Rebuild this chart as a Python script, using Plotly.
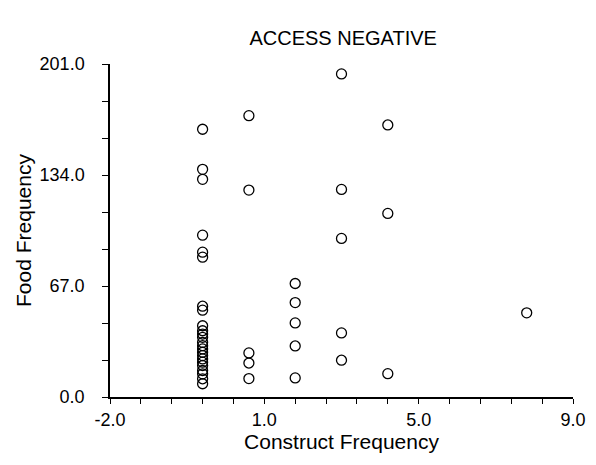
import plotly.graph_objects as go

# Data
construct_freq = [0, 0, 0, 0, 0, 0, 0, 0,
                  0, 0, 0, 0, 0, 0, 0, 0, 0, 0, 0, 0, 0, 0, 0, 0,
                  1, 1, 1, 1, 1,
                  2, 2, 2, 2, 2,
                  3, 3, 3, 3, 3,
                  4, 4, 4,
                  7]
food_freq = [161.6, 137.4, 131.4, 97.7, 87.4, 84.4, 54.8, 52.4,
             43, 40, 38, 36, 33, 31, 29, 27, 25, 23, 21, 19, 16, 14, 11, 8,
             169.8, 124.9, 26.6, 20.5, 11.1,
             68.5, 57.0, 44.7, 30.8, 11.5,
             195.0, 125.3, 95.7, 38.7, 22.2,
             164.2, 110.8, 14.1,
             50.8]

x_tick_vals = [-2, 4 / 3, 14 / 3, 8]
x_tick_text = ["-2.0", "1.0", "5.0", "9.0"]
y_tick_vals = [0, 67, 134, 201]
y_tick_text = ["0.0", "67.0", "134.0", "201.0"]

FONT = "Liberation Sans, Arial, sans-serif"

fig = go.Figure()
fig.add_trace(go.Scatter(
    x=construct_freq, y=food_freq, mode="markers",
    marker=dict(symbol="circle-open", size=10, color="black",
                line=dict(width=1.3, color="black")),
    showlegend=False, cliponaxis=False,
))

# page body has an 8px margin, so the figure is 8px smaller on each side
fig.update_layout(
    width=588, height=457,
    paper_bgcolor="white", plot_bgcolor="white",
    margin=dict(l=102, r=23, t=56, b=68, autoexpand=False),
    font=dict(family=FONT, size=18, color="black"),
    title=dict(text="ACCESS NEGATIVE", x=0.57, xanchor="center",
               y=0.935, yanchor="middle", font=dict(size=20)),
    xaxis=dict(
        range=[-2, 8], showgrid=False, zeroline=False,
        showline=True, linecolor="black", linewidth=1.5,
        tickmode="array", tickvals=x_tick_vals, ticktext=x_tick_text,
        ticks="outside", ticklen=5, tickcolor="black", tickwidth=1,
        ticklabelstandoff=1, automargin=False,
        minor=dict(tickmode="linear", tick0=-2, dtick=2 / 3,
                   ticks="outside", ticklen=5, tickcolor="black"),
        title=dict(text="Construct Frequency", font=dict(size=21), standoff=4),
        tickfont=dict(size=18),
    ),
    yaxis=dict(
        range=[0, 201], showgrid=False, zeroline=False,
        showline=True, linecolor="black", linewidth=1.5,
        tickmode="array", tickvals=y_tick_vals, ticktext=y_tick_text,
        ticks="outside", ticklen=6, tickcolor="black", tickwidth=1,
        ticklabelstandoff=14, automargin=False,
        minor=dict(tickmode="linear", tick0=0, dtick=67 / 3,
                   ticks="outside", ticklen=6, tickcolor="black"),
        title=dict(text="Food Frequency", font=dict(size=21), standoff=2),
        tickfont=dict(size=18),
    ),
)

fig.write_html("out.html")
